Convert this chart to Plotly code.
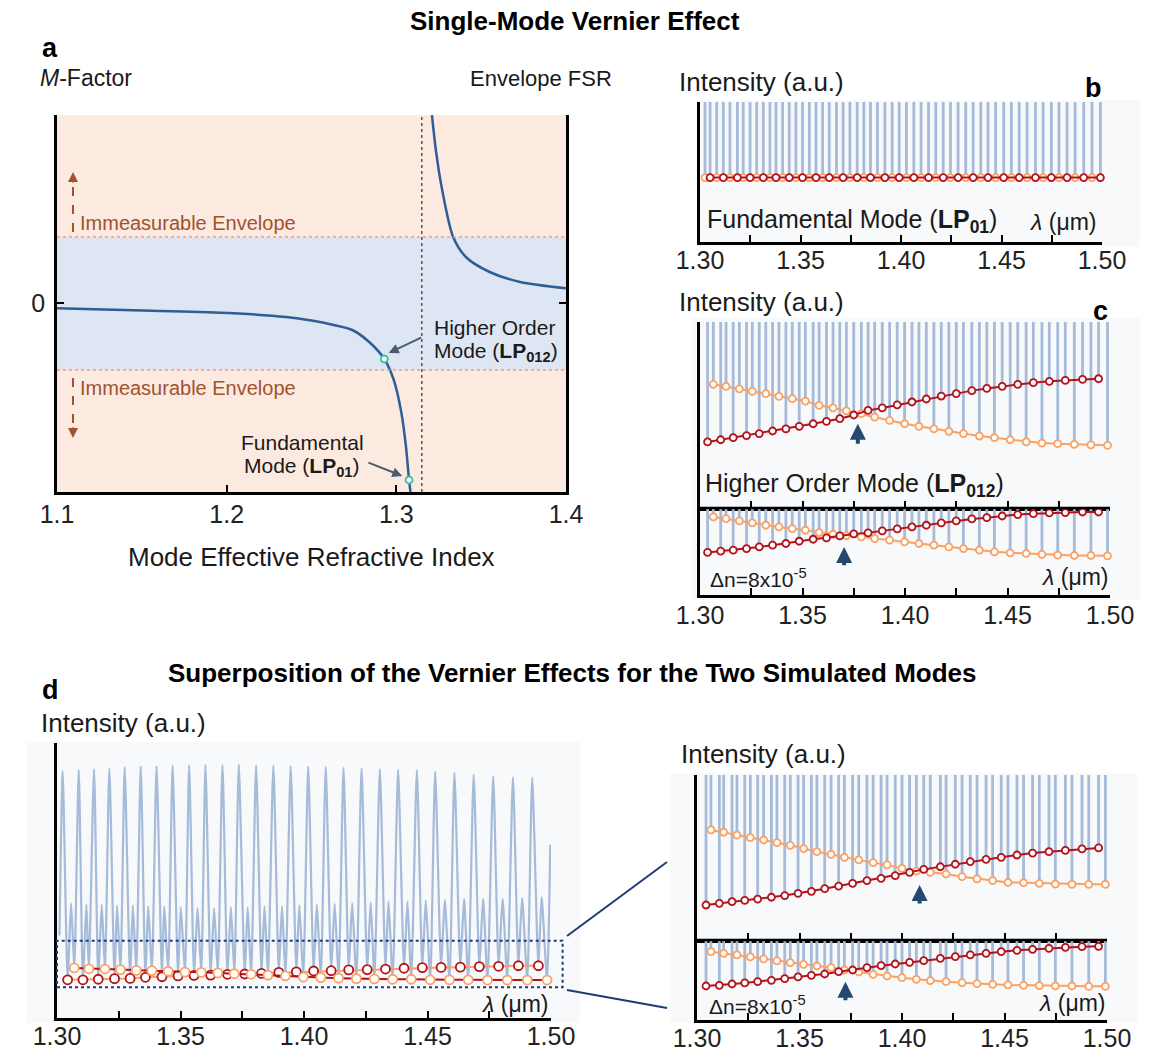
import plotly.graph_objects as go

W, H = 1151, 1052
FONT = "Liberation Sans, Arial, Helvetica, sans-serif"

# ---------------- Panel a : M-factor vs effective index ----------------
a_left_n = [1.100, 1.156, 1.2015, 1.235, 1.258, 1.274, 1.284, 1.2929, 1.2985, 1.303, 1.3057, 1.3075, 1.3084]
a_left_M = [-0.053, -0.077, -0.10, -0.14, -0.20, -0.27, -0.39, -0.56, -0.77, -1.10, -1.44, -1.77, -1.90]
a_right_n = [1.321, 1.3233, 1.3267, 1.3335, 1.341, 1.355, 1.373, 1.400]
a_right_M = [1.88, 1.53, 1.16, 0.66, 0.46, 0.31, 0.21, 0.147]
a_mode_n = [1.2929, 1.3075]          # LP012, LP01
a_mode_M = [-0.56, -1.77]
a_asymptote_n = 1.315
a_limit_upper = 0.66
a_limit_lower = -0.67
a_xticks = [1.1, 1.2, 1.3, 1.4]
a_xticklabels = ["1.1", "1.2", "1.3", "1.4"]

# ---------------- wavelength axis ----------------
wl_ticks = [1.300, 1.325, 1.350, 1.375, 1.400, 1.425, 1.450, 1.475, 1.500]
wl_ticktext = ["1.30", "", "1.35", "", "1.40", "", "1.45", "", "1.50"]

# ---------------- Panel b : fundamental mode ----------------
b_red_wl = [1.3050, 1.3116, 1.3186, 1.3249, 1.3315, 1.3378, 1.3444, 1.3510, 1.3577, 1.3643, 1.3712, 1.3782, 1.3848, 1.3920,
            1.3991, 1.4064, 1.4137, 1.4210, 1.4284, 1.4359, 1.4433, 1.4511, 1.4588, 1.4669, 1.4748, 1.4826, 1.4909, 1.4992]
b_orange_wl = [1.3025, 1.3083, 1.3149, 1.3215, 1.3282, 1.3348, 1.3411, 1.3477, 1.3544, 1.3610, 1.3679, 1.3746, 1.3815, 1.3883,
               1.3956, 1.4027, 1.4100, 1.4173, 1.4246, 1.4322, 1.4397, 1.4471, 1.4549, 1.4627, 1.4707, 1.4786, 1.4866, 1.4950]
b_level = 0.46

# ---------------- Panel c : higher order mode ----------------
c_red_wl = [1.3037, 1.3101, 1.3162, 1.3227, 1.3289, 1.3354, 1.3419, 1.3484, 1.3552, 1.3617, 1.3682, 1.3750, 1.3820, 1.3889,
            1.3962, 1.4034, 1.4104, 1.4177, 1.4250, 1.4326, 1.4399, 1.4474, 1.4550, 1.4626, 1.4704, 1.4782, 1.4866, 1.4944]
c_orange_wl = [1.3065, 1.3127, 1.3192, 1.3255, 1.3321, 1.3385, 1.3450, 1.3514, 1.3581, 1.3649, 1.3714, 1.3787, 1.3852, 1.3925,
               1.3998, 1.4068, 1.4141, 1.4214, 1.4285, 1.4363, 1.4436, 1.4513, 1.4591, 1.4668, 1.4745, 1.4826, 1.4907, 1.4988]
c_top_red = [0.355, 0.367, 0.378, 0.389, 0.400, 0.414, 0.425, 0.439, 0.453, 0.466, 0.480, 0.500, 0.525, 0.538,
             0.554, 0.570, 0.586, 0.602, 0.615, 0.631, 0.643, 0.654, 0.665, 0.674, 0.681, 0.686, 0.692, 0.695]
c_top_orange = [0.665, 0.654, 0.640, 0.627, 0.615, 0.600, 0.588, 0.575, 0.552, 0.538, 0.522, 0.507, 0.489, 0.471,
                0.453, 0.439, 0.425, 0.412, 0.400, 0.387, 0.378, 0.367, 0.355, 0.349, 0.346, 0.342, 0.339, 0.337]
c_bot_red = [0.489, 0.504, 0.515, 0.534, 0.553, 0.573, 0.592, 0.618, 0.641, 0.656, 0.679, 0.702, 0.714, 0.737,
             0.760, 0.782, 0.802, 0.828, 0.851, 0.874, 0.889, 0.908, 0.924, 0.935, 0.943, 0.947, 0.954, 0.954]
c_bot_orange = [0.897, 0.878, 0.851, 0.828, 0.802, 0.782, 0.763, 0.744, 0.718, 0.698, 0.683, 0.668, 0.649, 0.630,
                0.611, 0.592, 0.573, 0.553, 0.534, 0.515, 0.496, 0.485, 0.477, 0.466, 0.458, 0.454, 0.454, 0.450]
c_arrow_wl = [1.3770, 1.3703]
c_arrow_head = [0.453, 0.553]
c_arrow_tail = [0.337, 0.324]

# ---------------- Panel d (right) : superposition zoom ----------------
dr_red_wl = [1.3044, 1.3109, 1.3171, 1.3233, 1.3296, 1.3363, 1.3428, 1.3493, 1.3558, 1.3623, 1.3691, 1.3759, 1.3829, 1.3898,
             1.3967, 1.4037, 1.4106, 1.4187, 1.4260, 1.4333, 1.4410, 1.4484, 1.4561, 1.4637, 1.4717, 1.4797, 1.4878, 1.4959]
dr_orange_wl = [1.3068, 1.3130, 1.3195, 1.3260, 1.3325, 1.3390, 1.3455, 1.3520, 1.3585, 1.3654, 1.3719, 1.3789, 1.3859, 1.3927,
                1.4000, 1.4070, 1.4138, 1.4215, 1.4293, 1.4366, 1.4442, 1.4517, 1.4593, 1.4670, 1.4748, 1.4829, 1.4911, 1.4992]
dr_top_red = [0.212, 0.222, 0.232, 0.240, 0.248, 0.259, 0.269, 0.283, 0.295, 0.311, 0.327, 0.343, 0.360, 0.374,
              0.390, 0.410, 0.428, 0.444, 0.459, 0.475, 0.489, 0.501, 0.515, 0.527, 0.535, 0.543, 0.552, 0.558]
dr_top_orange = [0.667, 0.653, 0.636, 0.620, 0.606, 0.590, 0.574, 0.554, 0.535, 0.519, 0.501, 0.485, 0.469, 0.455,
                 0.434, 0.418, 0.410, 0.400, 0.384, 0.370, 0.360, 0.349, 0.347, 0.343, 0.339, 0.337, 0.337, 0.337]
dr_bot_red = [0.425, 0.433, 0.450, 0.463, 0.479, 0.496, 0.517, 0.538, 0.558, 0.575, 0.604, 0.625, 0.654, 0.679,
              0.700, 0.721, 0.742, 0.771, 0.792, 0.813, 0.833, 0.854, 0.871, 0.883, 0.896, 0.908, 0.917, 0.921]
dr_bot_orange = [0.854, 0.833, 0.813, 0.788, 0.763, 0.738, 0.717, 0.696, 0.675, 0.654, 0.625, 0.600, 0.571, 0.550,
                 0.529, 0.508, 0.492, 0.479, 0.467, 0.454, 0.446, 0.438, 0.433, 0.429, 0.425, 0.425, 0.421, 0.421]
dr_arrow_wl = [1.4086, 1.3724]
dr_arrow_head = [0.333, 0.479]
dr_arrow_tail = [0.212, 0.229]

# ---------------- Panel d (left) : full superposed spectrum ----------------
dl_start_wl, dl_start_int = 1.3010, 0.30
dl_tall_wl = [1.3023, 1.3088, 1.3150, 1.3212, 1.3274, 1.3339, 1.3403, 1.3468, 1.3535, 1.3601, 1.3670, 1.3736, 1.3806, 1.3876, 1.3946,
              1.4017, 1.4088, 1.4160, 1.4233, 1.4307, 1.4381, 1.4457, 1.4531, 1.4609, 1.4687, 1.4766, 1.4846, 1.4924, 1.4997]
dl_tall_int = [0.897, 0.901, 0.905, 0.908, 0.912, 0.915, 0.915, 0.918, 0.919, 0.920, 0.920, 0.921, 0.919, 0.918, 0.915,
               0.914, 0.913, 0.910, 0.908, 0.905, 0.903, 0.901, 0.896, 0.891, 0.885, 0.879, 0.875, 0.873, 0.630]
dl_small_wl = [1.3057, 1.3119, 1.3181, 1.3243, 1.3307, 1.3369, 1.3434, 1.3501, 1.3569, 1.3636, 1.3704, 1.3772, 1.3840, 1.3911,
               1.3981, 1.4052, 1.4124, 1.4195, 1.4270, 1.4342, 1.4419, 1.4493, 1.4570, 1.4648, 1.4725, 1.4804, 1.4883, 1.4962]
dl_small_int = [0.418, 0.412, 0.412, 0.410, 0.410, 0.406, 0.406, 0.402, 0.400, 0.399, 0.402, 0.402, 0.406, 0.406,
                0.410, 0.412, 0.415, 0.418, 0.421, 0.423, 0.424, 0.428, 0.430, 0.433, 0.433, 0.433, 0.436, 0.440]
dl_red_wl = [1.3043, 1.3105, 1.3167, 1.3233, 1.3296, 1.3358, 1.3425, 1.3490, 1.3555, 1.3622, 1.3690, 1.3760, 1.3828, 1.3898,
             1.3969, 1.4039, 1.4110, 1.4181, 1.4256, 1.4330, 1.4405, 1.4479, 1.4555, 1.4633, 1.4710, 1.4788, 1.4868, 1.4949]
dl_red_int = [0.139, 0.139, 0.141, 0.143, 0.144, 0.148, 0.150, 0.153, 0.155, 0.156, 0.159, 0.160, 0.162, 0.166,
              0.168, 0.171, 0.172, 0.175, 0.176, 0.178, 0.181, 0.183, 0.184, 0.185, 0.187, 0.188, 0.190, 0.190]
dl_orange_wl = [1.3070, 1.3129, 1.3194, 1.3257, 1.3321, 1.3384, 1.3450, 1.3518, 1.3584, 1.3651, 1.3718, 1.3786, 1.3854, 1.3925,
                1.3997, 1.4068, 1.4140, 1.4212, 1.4285, 1.4359, 1.4434, 1.4511, 1.4589, 1.4665, 1.4743, 1.4823, 1.4904, 1.4984]
dl_orange_int = [0.182, 0.179, 0.178, 0.176, 0.173, 0.172, 0.170, 0.167, 0.166, 0.164, 0.161, 0.159, 0.156, 0.153,
                 0.149, 0.147, 0.145, 0.143, 0.142, 0.141, 0.141, 0.139, 0.139, 0.139, 0.138, 0.138, 0.138, 0.138]
dl_box_wl = [1.300, 1.5047]
dl_box_int = [0.112, 0.281]

# ---------------- styling ----------------
RED = "#B3121B"
ORANGE = "#F9A264"
SPIKE = "#A6BAD9"
CURVE = "#2F5E96"
NAVY = "#1F3A78"
ARROW = "#24496E"
BROWN = "#A0522D"


def dx(l, r):
    return [l / W, r / W]


def dy(top, bottom):
    return [1 - bottom / H, 1 - top / H]


DOM = {
    1: (dx(57, 566), dy(115, 492)),     # a
    2: (dx(700, 1102), dy(102, 242)),   # b
    3: (dx(700, 1110), dy(322, 508)),   # c top
    4: (dx(700, 1110), dy(508, 595)),   # c bottom
    5: (dx(57, 551), dy(743, 1018)),    # d left
    6: (dx(697, 1107), dy(775, 940)),   # d right top
    7: (dx(697, 1107), dy(940, 1020)),  # d right bottom
}


def ax(i):
    return ("x" if i == 1 else f"x{i}"), ("y" if i == 1 else f"y{i}")


fig = go.Figure()


def spikes(xs, ys, i, top=1.0):
    X, Y = [], []
    for x, y in zip(xs, ys):
        X += [x, x, None]
        Y += [top, y, None]
    xa, ya = ax(i)
    fig.add_trace(go.Scatter(x=X, y=Y, mode="lines", line=dict(color=SPIKE, width=2.8),
                             xaxis=xa, yaxis=ya, showlegend=False, hoverinfo="skip"))


def env(xs, ys, i, line_color, marker_color, size=7, lw=2):
    xa, ya = ax(i)
    fig.add_trace(go.Scatter(x=xs, y=ys, mode="lines+markers",
                             line=dict(color=line_color, width=lw),
                             marker=dict(symbol="circle", size=size, color="white",
                                         line=dict(color=marker_color, width=1.8)),
                             xaxis=xa, yaxis=ya, showlegend=False, hoverinfo="skip", cliponaxis=False))


# ---- panel a traces
fig.add_trace(go.Scatter(x=a_left_n, y=a_left_M, mode="lines", line=dict(color=CURVE, width=2.5, shape="spline", smoothing=0.8),
                         showlegend=False, hoverinfo="skip"))
fig.add_trace(go.Scatter(x=a_right_n, y=a_right_M, mode="lines", line=dict(color=CURVE, width=2.5, shape="spline", smoothing=0.8),
                         showlegend=False, hoverinfo="skip"))
fig.add_trace(go.Scatter(x=a_mode_n, y=a_mode_M, mode="markers",
                         marker=dict(size=7, color="white", line=dict(color="#35BFA3", width=1.8)),
                         showlegend=False, hoverinfo="skip", cliponaxis=False))

# ---- panel b
spikes(b_red_wl + b_orange_wl, [b_level] * (len(b_red_wl) + len(b_orange_wl)), 2)
env(b_orange_wl, [b_level] * len(b_orange_wl), 2, ORANGE, ORANGE)
env(b_red_wl, [b_level] * len(b_red_wl), 2, RED, RED)

# ---- panel c
spikes(c_red_wl + c_orange_wl, c_top_red + c_top_orange, 3)
env(c_orange_wl, c_top_orange, 3, ORANGE, ORANGE)
env(c_red_wl, c_top_red, 3, RED, RED)
spikes(c_red_wl + c_orange_wl, c_bot_red + c_bot_orange, 4)
env(c_orange_wl, c_bot_orange, 4, ORANGE, ORANGE)
env(c_red_wl, c_bot_red, 4, RED, RED)

# ---- panel d left
pts = sorted([(dl_start_wl, dl_start_int)] + list(zip(dl_tall_wl, dl_tall_int)) + list(zip(dl_small_wl, dl_small_int))
             + list(zip(dl_red_wl, dl_red_int)) + list(zip(dl_orange_wl, dl_orange_int)))
fig.add_trace(go.Scatter(x=[p[0] for p in pts], y=[p[1] for p in pts], mode="lines",
                         line=dict(color=SPIKE, width=2.2, shape="spline", smoothing=0.6),
                         xaxis="x5", yaxis="y5", showlegend=False, hoverinfo="skip"))
env(dl_red_wl, dl_red_int, 5, ORANGE, RED, size=9)
env(dl_orange_wl, dl_orange_int, 5, RED, ORANGE, size=9)

# ---- panel d right
spikes(dr_red_wl + dr_orange_wl, dr_top_red + dr_top_orange, 6)
env(dr_orange_wl, dr_top_orange, 6, ORANGE, ORANGE)
env(dr_red_wl, dr_top_red, 6, RED, RED)
spikes(dr_red_wl + dr_orange_wl, dr_bot_red + dr_bot_orange, 7)
env(dr_orange_wl, dr_bot_orange, 7, ORANGE, ORANGE)
env(dr_red_wl, dr_bot_red, 7, RED, RED)

# ---------------- axes ----------------
layout = dict(width=W, height=H, margin=dict(l=0, r=0, t=0, b=0, pad=0, autoexpand=False), autosize=False,
              paper_bgcolor="white", plot_bgcolor="rgba(0,0,0,0)",
              font=dict(family=FONT, color="#1a1a1a"), showlegend=False)

TICK = 25
tickfont = dict(family=FONT, size=TICK, color="#222")
layout["xaxis"] = dict(domain=DOM[1][0], anchor="y", range=[1.1, 1.4], tickvals=a_xticks, ticktext=a_xticklabels,
                       showline=True, linecolor="black", linewidth=2.5, ticks="inside", ticklen=7, tickwidth=2,
                       tickcolor="black", showgrid=False, zeroline=False, tickfont=tickfont,
                       ticklabelstandoff=-2, automargin=False)
layout["yaxis"] = dict(domain=DOM[1][1], anchor="x", range=[-1.89, 1.88], tickvals=[0], ticktext=["0"],
                       showline=True, mirror="ticks", linecolor="black", linewidth=2.5, ticks="inside", ticklen=7,
                       tickwidth=2, tickcolor="black", showgrid=False, zeroline=False,
                       tickfont=tickfont, ticklabelstandoff=4, automargin=False)

standoff = {2: -6, 4: -4, 5: -6, 7: -6}
for i in range(2, 8):
    labels = i in (2, 4, 5, 7)
    layout[f"xaxis{i}"] = dict(domain=DOM[i][0], anchor=f"y{i}", range=[1.30, 1.50], tickvals=wl_ticks,
                               ticktext=wl_ticktext if labels else [""] * len(wl_ticks), showticklabels=labels,
                               showline=True, linecolor="black", linewidth=2.5, ticks="inside", ticklen=7,
                               tickwidth=2, tickcolor="black", showgrid=False, zeroline=False, tickfont=tickfont,
                               ticklabelstandoff=standoff.get(i, 0), automargin=False)
    layout[f"yaxis{i}"] = dict(domain=DOM[i][1], anchor=f"x{i}", range=[0, 1], showline=True, linecolor="black",
                               linewidth=2.5, showticklabels=False, ticks="", showgrid=False, zeroline=False,
                               automargin=False)

# ---------------- shapes ----------------
shapes = []
# faint background boxes around the spectra panels
for (l, t, r, b) in [(697, 100, 1140, 247), (692, 318, 1140, 600), (27, 742, 580, 1023), (670, 773, 1137, 1023)]:
    shapes.append(dict(type="rect", xref="paper", yref="paper", x0=l / W, x1=r / W, y0=1 - b / H, y1=1 - t / H,
                       fillcolor="#F8F9FA", line=dict(width=0), layer="below"))
# panel a bands
shapes.append(dict(type="rect", xref="x", yref="y", x0=1.1, x1=1.4, y0=a_limit_upper, y1=1.88,
                   fillcolor="#FCEAE0", line=dict(width=0), layer="below"))
shapes.append(dict(type="rect", xref="x", yref="y", x0=1.1, x1=1.4, y0=-1.89, y1=a_limit_lower,
                   fillcolor="#FCEAE0", line=dict(width=0), layer="below"))
shapes.append(dict(type="rect", xref="x", yref="y", x0=1.1, x1=1.4, y0=a_limit_lower, y1=a_limit_upper,
                   fillcolor="#DFE6F3", line=dict(width=0), layer="below"))
# fade at top of panel a
for k, op in enumerate([0.95, 0.8, 0.62, 0.45, 0.3, 0.15]):
    y_top = 115 + k * 4
    shapes.append(dict(type="rect", xref="paper", yref="paper", x0=58 / W, x1=565 / W,
                       y0=1 - (y_top + 4) / H, y1=1 - y_top / H, fillcolor=f"rgba(255,255,255,{op})",
                       line=dict(width=0), layer="below"))
for lim in (a_limit_upper, a_limit_lower):
    shapes.append(dict(type="line", xref="x", yref="y", x0=1.1, x1=1.4, y0=lim, y1=lim,
                       line=dict(color="#F09A90", width=1.5, dash="dot")))
shapes.append(dict(type="line", xref="x", yref="y", x0=a_asymptote_n, x1=a_asymptote_n, y0=-1.89, y1=1.88,
                   line=dict(color="#555", width=1.5, dash="dot")))
# dashed brown arrow shafts
shapes.append(dict(type="line", xref="paper", yref="paper", x0=73 / W, x1=73 / W, y0=1 - 232 / H, y1=1 - 182 / H,
                   line=dict(color=BROWN, width=2, dash="dash")))
shapes.append(dict(type="line", xref="paper", yref="paper", x0=73 / W, x1=73 / W, y0=1 - 378 / H, y1=1 - 428 / H,
                   line=dict(color=BROWN, width=2, dash="dash")))
# solid separators between stacked panels (drawn above the spikes)
for (l, r, yy) in [(700, 1110, 508), (697, 1107, 940)]:
    shapes.append(dict(type="line", xref="paper", yref="paper", x0=l / W, x1=r / W, y0=1 - yy / H, y1=1 - yy / H,
                       line=dict(color="black", width=2.5), layer="above"))

# zoom box in panel d (left)
(xd0, xd1), (yd0, yd1) = DOM[5]


def px5(wl):
    return xd0 + (wl - 1.30) / 0.20 * (xd1 - xd0)


def py5(v):
    return yd0 + v * (yd1 - yd0)


shapes.append(dict(type="rect", xref="paper", yref="paper", x0=px5(dl_box_wl[0]), x1=px5(dl_box_wl[1]),
                   y0=py5(dl_box_int[0]), y1=py5(dl_box_int[1]), line=dict(color=NAVY, width=2, dash="dot")))
# connectors to the zoomed panel
shapes.append(dict(type="line", xref="paper", yref="paper", x0=567 / W, y0=1 - 936 / H, x1=667 / W, y1=1 - 862 / H,
                   line=dict(color=NAVY, width=2)))
shapes.append(dict(type="line", xref="paper", yref="paper", x0=567 / W, y0=1 - 990 / H, x1=667 / W, y1=1 - 1008 / H,
                   line=dict(color=NAVY, width=2)))
layout["shapes"] = shapes

# ---------------- annotations ----------------
ann = []


def txt(text, x, y, size=20, xanchor="left", color="#1a1a1a"):
    ann.append(dict(text=text, x=x / W, y=1 - y / H, xref="paper", yref="paper", xanchor=xanchor, yanchor="middle",
                    showarrow=False, font=dict(family=FONT, size=size, color=color)))


txt("<b>Single-Mode Vernier Effect</b>", 575, 21, 26, "center", "black")
txt("<b>Superposition of the Vernier Effects for the Two Simulated Modes</b>", 572, 673, 26, "center", "black")
txt("<b>a</b>", 40, 48, 27, "left", "black")
txt("<b>d</b>", 40, 690, 27, "left", "black")
txt("<b>b</b>", 1093, 88, 27, "center", "black")
txt("<b>c</b>", 1100, 311, 27, "center", "black")
txt("<i>M</i>-Factor", 38, 78, 23)
txt("Envelope FSR", 614, 78, 22, "right")
txt("Immeasurable Envelope", 78, 223, 20, "left", BROWN)
txt("Immeasurable Envelope", 78, 388, 20, "left", BROWN)
txt("Higher Order", 432, 327, 21)
txt("Mode (<b>LP</b><sub><b>012</b></sub>)", 432, 352, 21)
txt("Fundamental", 302, 442, 21, "center")
txt("Mode (<b>LP</b><sub><b>01</b></sub>)", 302, 467, 21, "center")
txt("Mode Effective Refractive Index", 311, 557, 26, "center")

txt("Intensity (a.u.)", 677, 82, 26)
txt("Fundamental Mode (<b>LP</b><sub><b>01</b></sub>)", 705, 221, 25)
txt("<i>λ</i> (μm)", 1098, 222, 23, "right")
txt("Intensity (a.u.)", 677, 302, 26)
txt("Higher Order Mode (<b>LP</b><sub><b>012</b></sub>)", 703, 485, 25)
txt("Δn=8x10<sup>-5</sup>", 708, 578, 21)
txt("<i>λ</i> (μm)", 1110, 577, 23, "right")
txt("Intensity (a.u.)", 39, 723, 26)
txt("<i>λ</i> (μm)", 550, 1004, 23, "right")
txt("Intensity (a.u.)", 679, 754, 26)
txt("Δn=8x10<sup>-5</sup>", 707, 1005, 21)
txt("<i>λ</i> (μm)", 1107, 1003, 23, "right")

# mode pointer arrows (panel a)
ann.append(dict(x=1.2955, y=-0.50, ax=1.3155, ay=-0.34, xref="x", yref="y", axref="x", ayref="y", text="",
                showarrow=True, arrowhead=2, arrowsize=1, arrowwidth=2, arrowcolor="#4A5C70"))
ann.append(dict(x=1.3035, y=-1.73, ax=1.2827, ay=-1.59, xref="x", yref="y", axref="x", ayref="y", text="",
                showarrow=True, arrowhead=2, arrowsize=1, arrowwidth=2, arrowcolor="#4A5C70"))
# brown arrow heads
ann.append(dict(x=73 / W, y=1 - 172 / H, xref="paper", yref="paper", ax=0, ay=12, text="", showarrow=True,
                arrowhead=2, arrowsize=1, arrowwidth=2, arrowcolor=BROWN))
ann.append(dict(x=73 / W, y=1 - 438 / H, xref="paper", yref="paper", ax=0, ay=-12, text="", showarrow=True,
                arrowhead=2, arrowsize=1, arrowwidth=2, arrowcolor=BROWN))

# vernier crossing arrows
for i, wls, heads, tails in [(3, c_arrow_wl[:1], c_arrow_head[:1], c_arrow_tail[:1]),
                             (4, c_arrow_wl[1:], c_arrow_head[1:], c_arrow_tail[1:]),
                             (6, dr_arrow_wl[:1], dr_arrow_head[:1], dr_arrow_tail[:1]),
                             (7, dr_arrow_wl[1:], dr_arrow_head[1:], dr_arrow_tail[1:])]:
    xa, ya = ax(i)
    for w, h, t in zip(wls, heads, tails):
        ann.append(dict(x=w, y=h, ax=w, ay=t, xref=xa, yref=ya, axref=xa, ayref=ya, text="", showarrow=True,
                        arrowhead=2, arrowsize=0.8, arrowwidth=4, arrowcolor=ARROW))

layout["annotations"] = ann
fig.update_layout(**layout)
fig.write_html("out.html")
